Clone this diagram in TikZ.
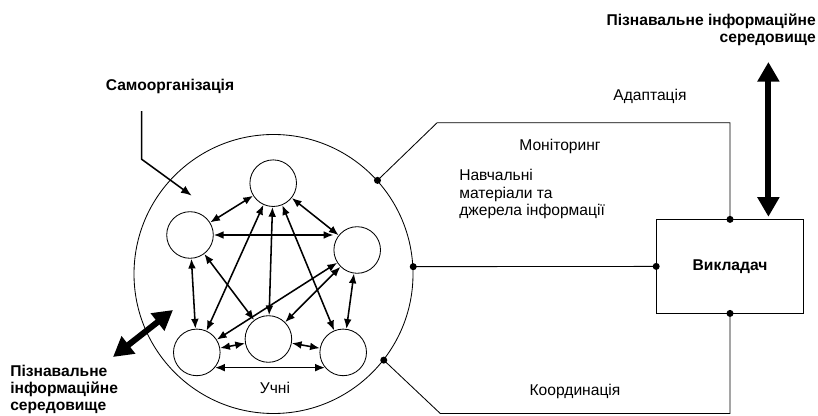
\documentclass[tikz,border=0pt]{standalone}
\usepackage{fontspec}
\setmainfont{Liberation Sans}
\usepackage{tikz}
\usetikzlibrary{positioning}
\usetikzlibrary{calc}
\usetikzlibrary{arrows.meta}
\tikzset{
	student/.style={draw, circle, line width=0.6pt, minimum size=1.165cm, inner sep=0pt},
	link/.style={line width=1.1pt, {Latex[length=7pt,width=5.5pt]}-{Latex[length=7pt,width=5.5pt]}},
	envarrow/.style={line width=4.3pt, {Triangle[length=14pt,width=15pt]}-{Triangle[length=14pt,width=15pt]}},
	wire/.style={line width=0.6pt},
	lbl/.style={inner sep=0pt, font=\fontsize{11.1}{12.2}\selectfont},
	blbl/.style={inner sep=0pt, font=\fontsize{11.1}{12.2}\selectfont\bfseries},
}

\begin{document}
\begin{tikzpicture}
	\useasboundingbox (0,0) rectangle (20.45,10.4);

	\node[draw, circle, wire, minimum size=6.975cm, inner sep=0pt] (grp) at (6.8375,3.55) {};

	\node[student] (u1) at (6.83,5.82) {};
	\node[student] (u2) at (4.75,4.525) {};
	\node[student] (u3) at (8.93,4.15) {};
	\node[student] (u4) at (4.92,1.59) {};
	\node[student] (u5) at (6.71,1.925) {};
	\node[student] (u6) at (8.58,1.59) {};
	\node[lbl] (uchni) at (6.875,0.7) {Учні};

	\draw[link] (u1) -- (u2);
	\draw[link] (u1) -- (u3);
	\draw[link] (u1) -- (u4);
	\draw[link] (u1) -- (u5);
	\draw[link] (u1) -- (u6);
	\draw[link] (u2.east) -- (u2.east -| u3.west);
	\draw[link] (u2) -- (u4);
	\draw[link] (u2) -- (u5);
	\draw[link] (u3) -- (u4);
	\draw[link] (u3) -- (u5);
	\draw[link] (u3) -- (u6);
	\draw[link] (u4) -- (u5);
	\draw[link] (u5) -- (u6);
	\draw[link] (u4.-40) -- (u6.220);

	\node[blbl] (self) at (4.25,8.23) {Самоорганізація};
	\coordinate (sostart) at (3.54,7.62);
	\coordinate (sotip) at (4.79,5.51);
	\draw[line width=1.1pt, -{Latex[length=7.5pt,width=6pt]}] (sostart) -- ++(0,-1.2) -- (sotip);

	\node[draw, wire, minimum width=3.67cm, minimum height=2.33cm, blbl] (vykl) at (18.25,3.74) {Викладач};

	\draw[wire] (grp.42) -- ++(1.49,1.44) -| (vykl.north);
	\draw[wire] (grp.3) -- (vykl.west);
	\draw[wire] (grp.-38) -- ++(1.414,-1.335) -| (vykl.south);
	\foreach \p in {grp.42, grp.3, grp.-38, vykl.north, vykl.west, vykl.south}
		\fill (\p) circle (2.5pt);

	\node[lbl] (adapt) at (16.25,7.98) {Адаптація};
	\node[lbl] (monit) at (14.0,6.73) {Моніторинг};
	\node[lbl, anchor=west, align=left] (mater) at (11.475,5.55) {Навчальні\\матеріали та\\джерела інформації};
	\node[lbl] (koord) at (14.375,0.625) {Координація};

	\node[blbl, anchor=east, align=right] (envtop) at (20.4,9.65) {Пізнавальне інформаційне\\середовище};
	\coordinate (et1) at (19.21,8.85);
	\coordinate (et2) at (19.21,4.98);
	\draw[envarrow] (et1) -- (et2);

	\node[blbl, anchor=south west, align=left] (envbot) at (0.25,0.04) {Пізнавальне\\інформаційне\\середовище};
	\coordinate (eb1) at (4.325,2.65);
	\coordinate (eb2) at (2.825,1.475);
	\draw[envarrow] (eb1) -- (eb2);
\end{tikzpicture}
\end{document}
